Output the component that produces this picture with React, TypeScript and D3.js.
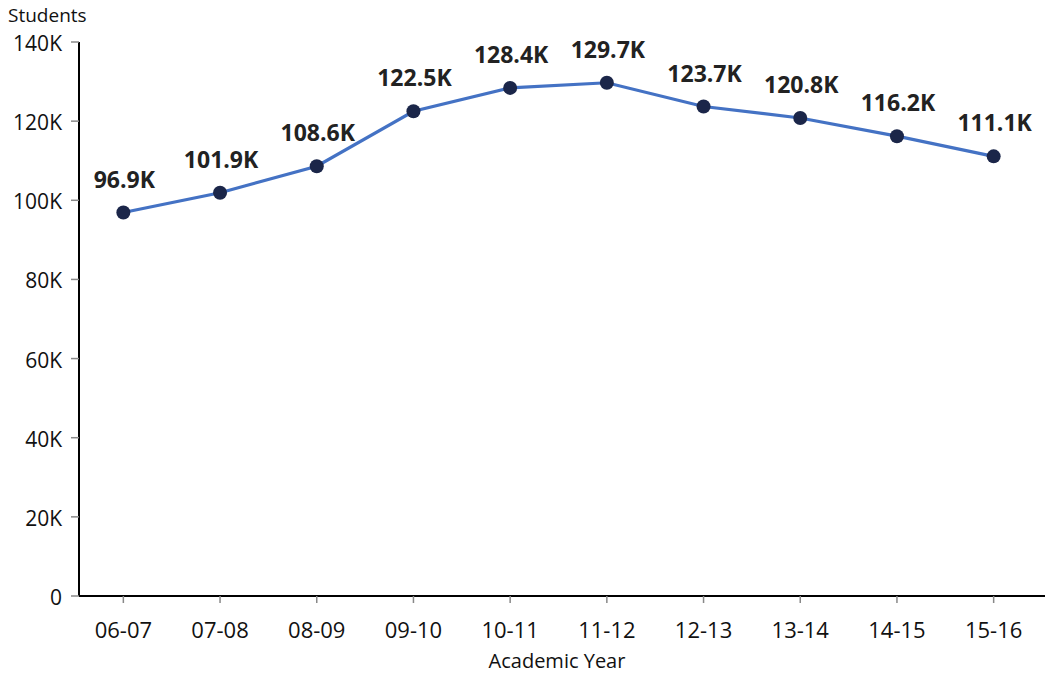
import React from "react";
import * as d3 from "d3";

const years = ["06-07", "07-08", "08-09", "09-10", "10-11", "11-12", "12-13", "13-14", "14-15", "15-16"];
const students = [96.9, 101.9, 108.6, 122.5, 128.4, 129.7, 123.7, 120.8, 116.2, 111.1];
const yTicks = [0, 20, 40, 60, 80, 100, 120, 140];

const W = 1045;
const H = 675;
const axisX = 79;
const FONT = "'Open Sans', 'Noto Sans', sans-serif";

export default function App() {
  const x = d3.scaleBand<string>().domain(years).range([75, 1042]);
  const y = d3.scaleLinear().domain([0, 140]).range([596, 42]);
  const cx = (d: string) => (x(d) ?? 0) + x.bandwidth() / 2;

  const line = d3
    .line<number>()
    .x((_, i) => cx(years[i]))
    .y((v) => y(v));

  return (
    <svg
      width={W}
      height={H}
      style={{ position: "absolute", left: 0, top: 0, background: "#fff" }}
      fontFamily={FONT}
    >
      {/* y axis */}
      <line x1={axisX} x2={axisX} y1={y(140)} y2={y(0)} stroke="#000" strokeWidth={2} />
      {yTicks.map((t) => (
        <g key={t}>
          <line x1={71} x2={axisX} y1={y(t)} y2={y(t)} stroke="#888" strokeWidth={1.5} />
          <text x={62} y={y(t) + 9} textAnchor="end" fontSize={21} fill="#111">
            {t === 0 ? "0" : `${t}K`}
          </text>
        </g>
      ))}
      <text x={8} y={22} fontSize={19} fill="#111">
        Students
      </text>

      {/* x axis */}
      <line x1={axisX} x2={W} y1={y(0)} y2={y(0)} stroke="#000" strokeWidth={2} />
      {years.map((d) => (
        <g key={d}>
          <line x1={cx(d)} x2={cx(d)} y1={y(0)} y2={y(0) + 7} stroke="#888" strokeWidth={1.5} />
          <text x={cx(d)} y={638} textAnchor="middle" fontSize={22} fill="#111">
            {d}
          </text>
        </g>
      ))}
      <text x={557} y={668} textAnchor="middle" fontSize={20} fill="#111">
        Academic Year
      </text>

      {/* series */}
      <path d={line(students) ?? ""} fill="none" stroke="#4472c4" strokeWidth={3.2} />
      {students.map((v, i) => (
        <g key={years[i]}>
          <circle cx={cx(years[i])} cy={y(v)} r={7} fill="#1b2649" />
          <text
            x={cx(years[i]) + 1}
            y={y(v) - 25}
            textAnchor="middle"
            fontSize={23}
            fontWeight="bold"
            fill="#222"
          >
            {`${v.toFixed(1)}K`}
          </text>
        </g>
      ))}
    </svg>
  );
}
